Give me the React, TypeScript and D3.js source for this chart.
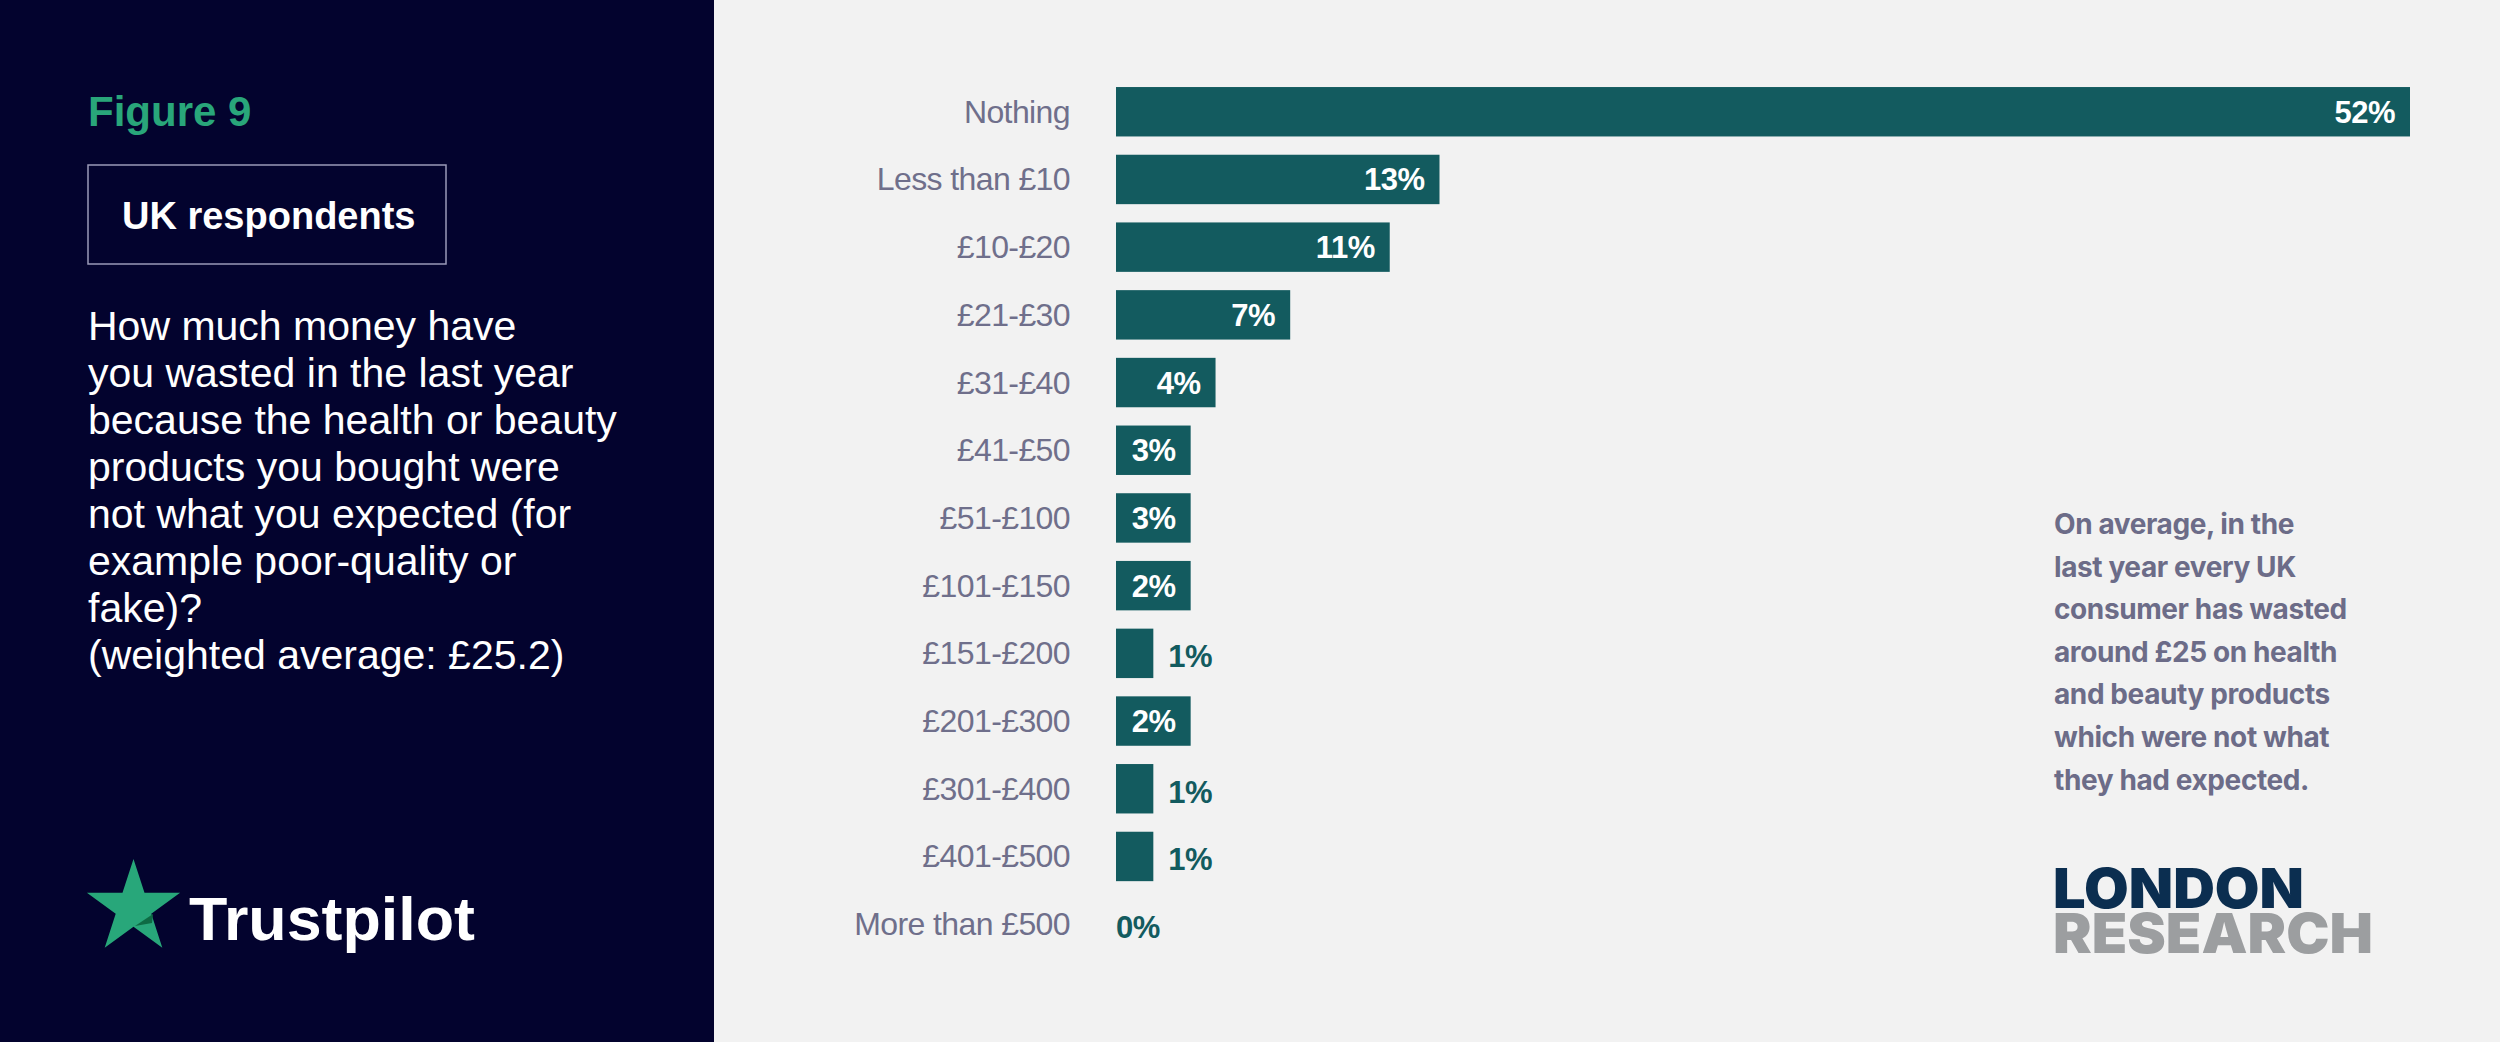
import * as d3 from "d3";

const categories = [
  "Nothing",
  "Less than £10",
  "£10-£20",
  "£21-£30",
  "£31-£40",
  "£41-£50",
  "£51-£100",
  "£101-£150",
  "£151-£200",
  "£201-£300",
  "£301-£400",
  "£401-£500",
  "More than £500",
];
// printed percentages
const pctLabels = [52, 13, 11, 7, 4, 3, 3, 2, 1, 2, 1, 1, 0];
// bar lengths as drawn in the picture (small bars are padded to fit their label)
const barValues = [52, 13, 11, 7, 4, 3, 3, 3, 1.5, 3, 1.5, 1.5, 0];

const questionLines = [
  "How much money have",
  "you wasted in the last year",
  "because the health or beauty",
  "products you bought were",
  "not what you expected (for",
  "example poor-quality or",
  "fake)?",
  "(weighted average: £25.2)",
];
const noteLines = [
  "On average, in the",
  "last year every UK",
  "consumer has wasted",
  "around £25 on health",
  "and beauty products",
  "which were not what",
  "they had expected.",
];

const W = 2500;
const H = 1042;
const NAVY = "#03032e";
const TEAL = "#135b5f";
const LABEL_GREY = "#6f6f8b";

export default function App() {
  const x = d3.scaleLinear().domain([0, 52]).range([1116, 2410]);
  const y = d3
    .scaleBand<string>()
    .domain(categories)
    .range([77.9, 958])
    .paddingInner(0.27)
    .paddingOuter(0.135);

  // trustpilot star
  const cx = 133.5;
  const cy = 908;
  const R = 49;
  const r = R * 0.382;
  const starPts = d3.range(10).map((i) => {
    const a = (i * Math.PI) / 5;
    const rad = i % 2 === 0 ? R : r;
    return [cx + rad * Math.sin(a), cy - rad * Math.cos(a)] as [number, number];
  });
  const star = d3.line()(starPts) + "Z";

  const font = "'Liberation Sans', Arial, Helvetica, sans-serif";
  const inter = "Inter, 'Liberation Sans', sans-serif";

  return (
    <div style={{ position: "absolute", left: 0, top: 0 }}>
      <svg width={W} height={H} style={{ display: "block" }}>
        <rect x={0} y={0} width={W} height={H} fill="#f2f2f2" />
        <rect x={0} y={0} width={714} height={H} fill={NAVY} />

        {/* left panel */}
        <text x={88} y={126} fill="#29a67a" fontFamily={font} fontWeight={700} fontSize={42}>
          Figure 9
        </text>
        <rect x={88} y={165} width={358} height={99} fill="none" stroke="#9a9ab8" strokeWidth={1.5} />
        <text x={122} y={229} fill="#fff" fontFamily={font} fontWeight={700} fontSize={38}>
          UK respondents
        </text>
        <text fill="#fff" fontFamily={font} fontSize={41}>
          {questionLines.map((l, i) => (
            <tspan key={i} x={88} y={340 + i * 47}>
              {l}
            </tspan>
          ))}
        </text>
        <path d={star} fill="#28a77a" />
        <path d="M135,926 L153,914 L152,923 Z" fill="#0e6b44" />
        <text x={189} y={940} fill="#fff" fontFamily={font} fontWeight={700} fontSize={62} textLength={286} lengthAdjust="spacingAndGlyphs">
          Trustpilot
        </text>

        {/* bars */}
        {categories.map((c, i) => {
          const yy = y(c)!;
          const bh = y.bandwidth();
          const mid = yy + bh / 2;
          const x1 = x(barValues[i]);
          const inside = barValues[i] >= 2;
          return (
            <g key={c}>
              <text
                x={1070}
                y={mid + 11}
                textAnchor="end"
                fill={LABEL_GREY}
                fontFamily={font}
                fontSize={32}
                letterSpacing={-0.6}
              >
                {c}
              </text>
              {barValues[i] > 0 && (
                <rect x={x(0)} y={yy} width={x1 - x(0)} height={bh} fill={TEAL} />
              )}
              <text
                x={inside ? x1 - 15 : barValues[i] > 0 ? x1 + 15 : x1}
                y={mid + (inside ? 11 : 14)}
                textAnchor={inside ? "end" : "start"}
                fill={inside ? "#fff" : TEAL}
                fontFamily={font}
                fontWeight={700}
                fontSize={31}
                letterSpacing={-0.5}
              >
                {pctLabels[i]}%
              </text>
            </g>
          );
        })}

        {/* note */}
        <text fill="#6c6c88" fontFamily={inter} fontWeight={700} fontSize={28} letterSpacing={-0.4}>
          {noteLines.map((l, i) => (
            <tspan key={i} x={2054} y={534 + i * 42.6}>
              {l}
            </tspan>
          ))}
        </text>

        {/* london research logo */}
        <text x={2053} y={908} fill="#0b2e50" fontFamily={inter} fontWeight={900} fontSize={55} textLength={251} lengthAdjust="spacingAndGlyphs">
          LONDON
        </text>
        <text x={2053} y={953} fill="#9c9ea0" fontFamily={inter} fontWeight={900} fontSize={55} textLength={320} lengthAdjust="spacingAndGlyphs">
          RESEARCH
        </text>
      </svg>
    </div>
  );
}
